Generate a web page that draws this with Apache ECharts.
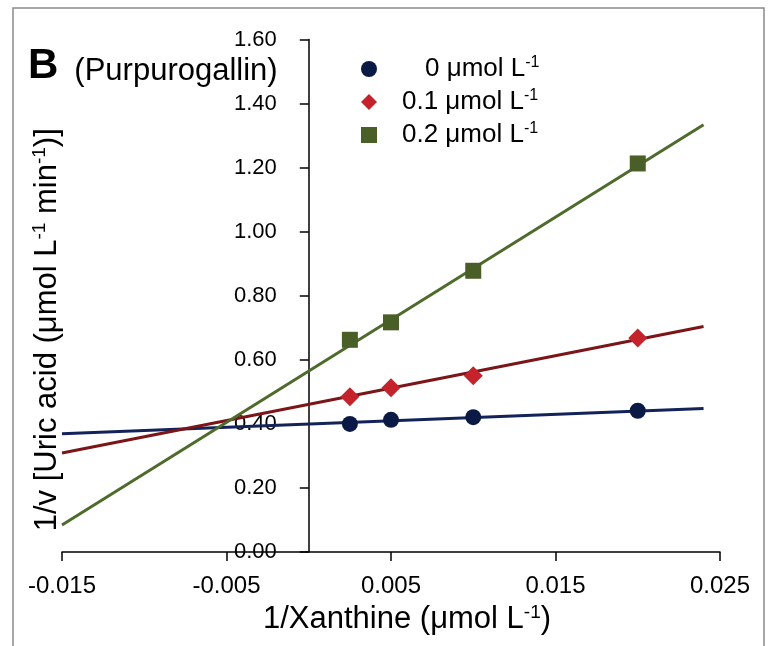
<!DOCTYPE html>
<html>
<head>
<meta charset="utf-8">
<script src="https://cdn.jsdelivr.net/npm/echarts@6/dist/echarts.min.js"></script>
<style>
  html, body { margin: 0; padding: 0; background: #fff; }
  #chart { width: 770px; height: 646px; }
</style>
</head>
<body>
<div id="chart"></div>
<script>
// x values of the measured points (1/Xanthine)
var xPoints = [0.0025, 0.005, 0.01, 0.02];
// 1/v values
var v0 = [0.400, 0.4125, 0.421, 0.441];
var v01 = [0.485, 0.513, 0.550, 0.668];
var v02 = [0.6625, 0.717, 0.878, 1.213];
// trend line ends
var trendX = [-0.015, 0.024];
var trend0 = [0.369, 0.448];
var trend01 = [0.309, 0.704];
var trend02 = [0.084, 1.334];
var seriesNames = ["0 μmol L-1", "0.1 μmol L-1", "0.2 μmol L-1"];
var legendNums = ["0", "0.1", "0.2"];

var font = "Liberation Sans, Arial, sans-serif";

function pairs(xs, ys) {
  return xs.map(function (x, i) { return [x, ys[i]]; });
}

var chart = echarts.init(document.getElementById("chart"));

// y axis sits at x = 0: shift it right from the grid's left edge
var gridLeft = 62, gridRight = 50;
var plotW = 770 - gridLeft - gridRight;
var yShift = plotW * (0 - (-0.015)) / (0.025 - (-0.015));

var option = {
  animation: false,
  backgroundColor: "#fff",
  title: {
    left: 23,
    top: 40,
    text: "{b|B}{p|(Purpurogallin)}",
    textStyle: {
      rich: {
        b: { fontFamily: font, fontWeight: "bold", fontSize: 42, color: "#000", lineHeight: 42, verticalAlign: "bottom", padding: [0, 16, 0, 0] },
        p: { fontFamily: font, fontWeight: "normal", fontSize: 31, color: "#000", lineHeight: 40, verticalAlign: "bottom" }
      }
    }
  },
  legend: {
    left: 356,
    top: 50,
    orient: "vertical",
    itemWidth: 16,
    itemHeight: 16,
    itemGap: 5,
    data: [
      { name: seriesNames[0], icon: "circle" },
      { name: seriesNames[1], icon: "diamond" },
      { name: seriesNames[2], icon: "rect" }
    ],
    formatter: function (name) {
      var i = seriesNames.indexOf(name);
      var tag = i === 0 ? "n0" : "n";
      return "{" + tag + "|" + legendNums[i] + "}{t| μmol L}{s|-1}";
    },
    textStyle: {
      rich: {
        n0: { fontFamily: font, fontSize: 26, color: "#000", lineHeight: 30, padding: [0, 0, 0, 43] },
        n: { fontFamily: font, fontSize: 26, color: "#000", lineHeight: 30, padding: [0, 0, 0, 20] },
        t: { fontFamily: font, fontSize: 26, color: "#000", lineHeight: 30 },
        s: { fontFamily: font, fontSize: 16, color: "#000", lineHeight: 30, padding: [0, 0, 12, 0] }
      }
    }
  },
  grid: {
    left: gridLeft,
    right: gridRight,
    top: 39.5,
    bottom: 94,
    outerBoundsMode: "none",
    containLabel: false
  },
  xAxis: {
    type: "value",
    min: -0.015,
    max: 0.025,
    interval: 0.01,
    name: "1/Xanthine (μmol L{s|-1})",
    nameLocation: "middle",
    nameGap: 50,
    nameTextStyle: {
      fontFamily: font,
      fontSize: 31,
      color: "#000",
      padding: [0, 0, 0, 32],
      rich: {
        s: { fontFamily: font, fontSize: 19, color: "#000", padding: [0, 0, 14, 0] }
      }
    },
    axisLine: { onZero: true, lineStyle: { color: "#000", width: 1.5 } },
    axisTick: { show: true, inside: false, length: 9, lineStyle: { color: "#000", width: 1.5 } },
    axisLabel: {
      margin: 22,
      fontFamily: font,
      fontSize: 24,
      color: "#000",
      formatter: function (v) { return v.toFixed(3); }
    },
    splitLine: { show: false }
  },
  yAxis: {
    type: "value",
    min: 0,
    max: 1.6,
    interval: 0.2,
    offset: -yShift,
    name: "1/v [Uric acid (μmol L{s|-1} min{s|-1})]",
    nameLocation: "middle",
    nameGap: 245,
    nameTextStyle: {
      fontFamily: font,
      fontSize: 31,
      color: "#000",
      padding: [0, 0, 0, -68],
      rich: {
        s: { fontFamily: font, fontSize: 19, color: "#000", padding: [0, 0, 14, 0] }
      }
    },
    axisLine: { onZero: false, lineStyle: { color: "#000", width: 1.5 } },
    axisTick: { show: true, inside: false, length: 9, lineStyle: { color: "#000", width: 1.5 } },
    axisLabel: {
      margin: 32,
      fontFamily: font,
      fontSize: 22,
      color: "#000",
      formatter: function (v) { return v.toFixed(2); }
    },
    splitLine: { show: false }
  },
  graphic: [
    {
      type: "rect",
      shape: { x: 13, y: 8, width: 751, height: 660 },
      style: { fill: "none", stroke: "#8a8a8a", lineWidth: 1.5 },
      silent: true
    }
  ],
  series: [
    {
      name: "trend0",
      type: "line",
      data: pairs(trendX, trend0),
      symbol: "none",
      lineStyle: { color: "#13235a", width: 3 },
      z: 2
    },
    {
      name: "trend01",
      type: "line",
      data: pairs(trendX, trend01),
      symbol: "none",
      lineStyle: { color: "#7a1518", width: 3 },
      z: 2
    },
    {
      name: "trend02",
      type: "line",
      data: pairs(trendX, trend02),
      symbol: "none",
      lineStyle: { color: "#4f6b2c", width: 3 },
      z: 2
    },
    {
      name: seriesNames[0],
      type: "scatter",
      data: pairs(xPoints, v0),
      symbol: "circle",
      symbolSize: 16,
      itemStyle: { color: "#0a1a45", opacity: 1 },
      z: 3
    },
    {
      name: seriesNames[1],
      type: "scatter",
      data: pairs(xPoints, v01),
      symbol: "diamond",
      symbolSize: 19,
      itemStyle: { color: "#c4232b", opacity: 1 },
      z: 3
    },
    {
      name: seriesNames[2],
      type: "scatter",
      data: pairs(xPoints, v02),
      symbol: "rect",
      symbolSize: 16,
      itemStyle: { color: "#4a5e27", opacity: 1 },
      z: 3
    }
  ]
};

chart.setOption(option);
</script>
</body>
</html>
